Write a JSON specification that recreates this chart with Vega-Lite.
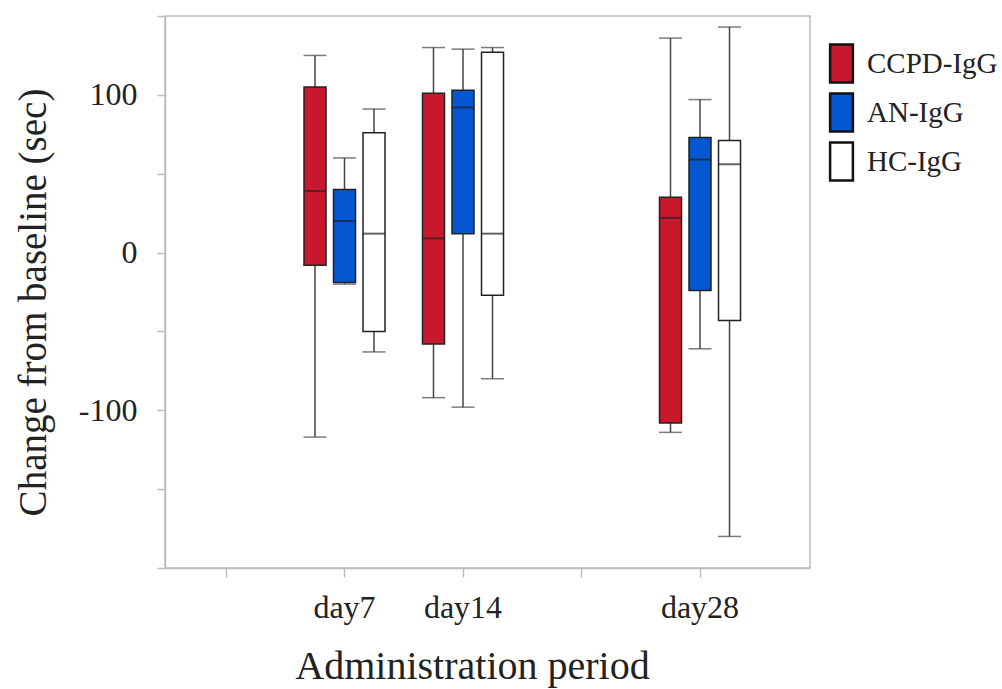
{
  "$schema": "https://vega.github.io/schema/vega-lite/v6.json",
  "autosize": "none",
  "padding": {"left": 165, "top": 16, "right": 192, "bottom": 121},
  "width": 645,
  "height": 552,
  "background": "white",
  "data": {
    "values": [
      {"day": "day7", "group": "CCPD-IgG", "lower": -117, "q1": -8, "median": 39, "q3": 105, "upper": 125},
      {"day": "day7", "group": "AN-IgG", "lower": -20, "q1": -19, "median": 20, "q3": 40, "upper": 60},
      {"day": "day7", "group": "HC-IgG", "lower": -63, "q1": -50, "median": 12, "q3": 76, "upper": 91},
      {"day": "day14", "group": "CCPD-IgG", "lower": -92, "q1": -58, "median": 9, "q3": 101, "upper": 130},
      {"day": "day14", "group": "AN-IgG", "lower": -98, "q1": 12, "median": 92, "q3": 103, "upper": 129},
      {"day": "day14", "group": "HC-IgG", "lower": -80, "q1": -27, "median": 12, "q3": 127, "upper": 130},
      {"day": "day28", "group": "CCPD-IgG", "lower": -114, "q1": -108, "median": 22, "q3": 35, "upper": 136},
      {"day": "day28", "group": "AN-IgG", "lower": -61, "q1": -24, "median": 59, "q3": 73, "upper": 97},
      {"day": "day28", "group": "HC-IgG", "lower": -180, "q1": -43, "median": 56, "q3": 71, "upper": 143}
    ]
  },
  "encoding": {
    "x": {
      "field": "day", "type": "nominal",
      "scale": {"domain": ["day0", "day7", "day14", "day21", "day28"], "paddingInner": 0.253, "paddingOuter": 0.348, "align": 0.203},
      "axis": {
        "title": "Administration period",
        "labelAngle": 0,
        "labelExpr": "datum.value == 'day0' || datum.value == 'day21' ? '' : datum.label",
        "labelFont": "Liberation Serif", "labelFontSize": 32, "labelColor": "#222",
        "labelBaseline": "alphabetic", "labelPadding": 40,
        "tickSize": 9, "tickColor": "#bdbdbd", "tickWidth": 1.5,
        "domainColor": "#bdbdbd", "domainWidth": 1.5,
        "titleFont": "Liberation Serif", "titleFontSize": 40, "titleFontWeight": "normal", "titleColor": "#222",
        "titleBaseline": "alphabetic", "titleX": 307, "titleY": 110
      }
    },
    "xOffset": {
      "field": "group", "type": "nominal",
      "scale": {"domain": ["CCPD-IgG", "AN-IgG", "HC-IgG"], "paddingInner": 0.254, "paddingOuter": 0.127}
    }
  },
  "layer": [
    {
      "mark": {"type": "rule", "color": "#444", "strokeWidth": 1.5},
      "encoding": {
        "y": {
          "field": "lower", "type": "quantitative",
          "scale": {"domain": [-200, 150], "nice": false, "zero": false},
          "axis": {
            "title": "Change from baseline (sec)",
            "values": [-200, -150, -100, -50, 0, 50, 100, 150],
            "labelExpr": "datum.value == 100 ? '100' : datum.value == 0 ? '0' : datum.value == -100 ? '-100' : ''",
            "labelFont": "Liberation Serif", "labelFontSize": 32, "labelColor": "#222", "labelPadding": 20,
            "tickSize": 8, "tickColor": "#bdbdbd", "tickWidth": 1.5,
            "domainColor": "#bdbdbd", "domainWidth": 1.5, "grid": false,
            "titleFont": "Liberation Serif", "titleFontSize": 39, "titleFontWeight": "normal", "titleColor": "#222",
            "titleBaseline": "alphabetic", "titleX": -120, "titleY": 286, "titleAngle": -90
          }
        },
        "y2": {"field": "upper"}
      }
    },
    {
      "mark": {"type": "bar", "stroke": "#222", "strokeWidth": 1.5},
      "encoding": {
        "y": {"field": "q1", "type": "quantitative"},
        "y2": {"field": "q3"},
        "fill": {
          "field": "group", "type": "nominal",
          "scale": {"domain": ["CCPD-IgG", "AN-IgG", "HC-IgG"], "range": ["#C8182B", "#0556D1", "#FFFFFF"]},
          "legend": {
            "title": null,
            "orient": "none", "legendX": 656, "legendY": 27,
            "symbolType": "M-0.6,-1H0.6V1H-0.6Z", "symbolSize": 1444,
            "symbolStrokeColor": "#111", "symbolStrokeWidth": 2.5, "symbolOpacity": 1,
            "labelFont": "Liberation Serif", "labelFontSize": 29, "labelColor": "#222",
            "rowPadding": 0, "labelOffset": 5
          }
        }
      }
    },
    {
      "mark": {"type": "tick", "color": "#222", "thickness": 2, "size": 22},
      "encoding": {"y": {"field": "median", "type": "quantitative"}}
    },
    {
      "mark": {"type": "tick", "color": "#444", "thickness": 1.5, "size": 23},
      "encoding": {"y": {"field": "upper", "type": "quantitative"}}
    },
    {
      "mark": {"type": "tick", "color": "#444", "thickness": 1.5, "size": 23},
      "encoding": {"y": {"field": "lower", "type": "quantitative"}}
    }
  ],
  "config": {
    "view": {"stroke": "#bdbdbd", "strokeWidth": 1.5},
    "axis": {"grid": false}
  }
}
